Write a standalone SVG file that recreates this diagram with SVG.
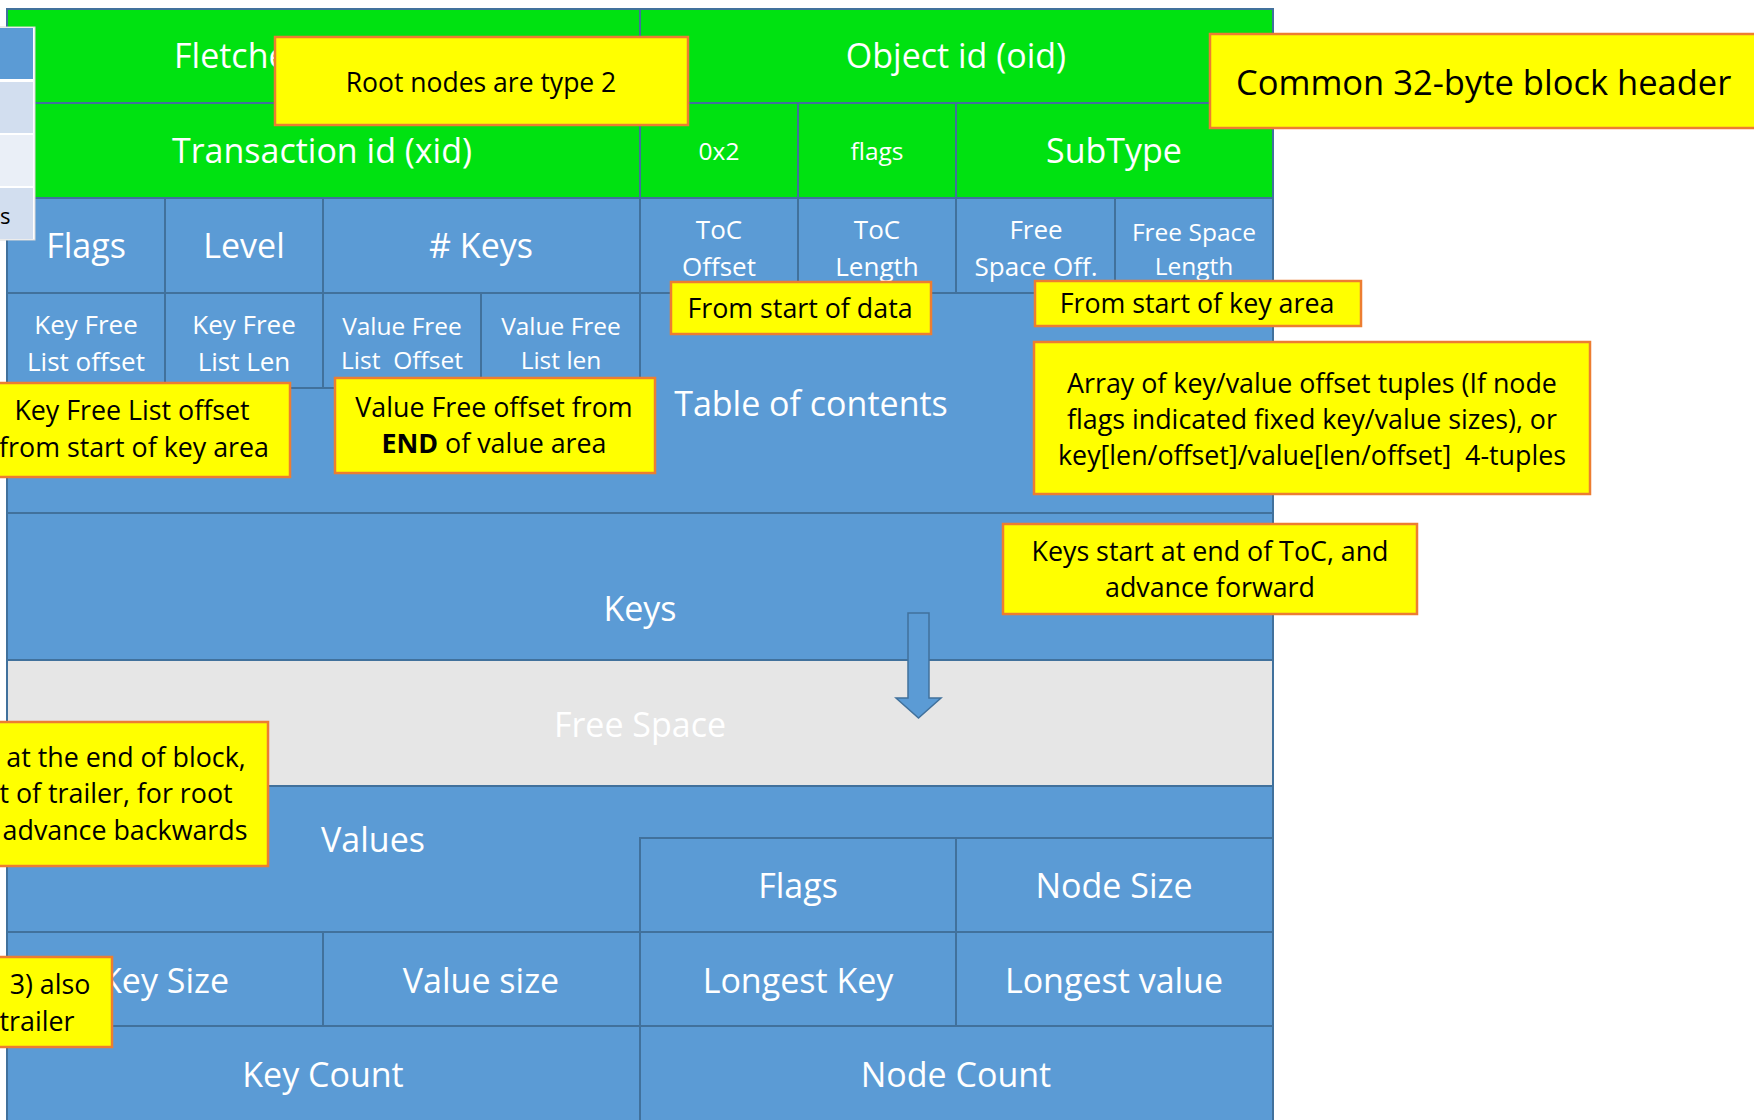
<svg xmlns="http://www.w3.org/2000/svg" width="1754" height="1120" viewBox="0 0 1754 1120">
<style>
.g{fill:#00e211;stroke:#41719c;stroke-width:2}
.b{fill:#5b9bd5;stroke:#41719c;stroke-width:2}
.fs{fill:#e6e6e6;stroke:#41719c;stroke-width:2}
.c{fill:#ffff00;stroke:#ed7d31;stroke-width:2.5}
text{font-family:"Open Sans","Liberation Sans",sans-serif;fill:#ffffff;text-anchor:middle}
.L{font-size:34px}
.M{font-size:26px}
.S{font-size:24.5px}
.k{fill:#000000}
.n{font-size:26.8px}
.st{text-anchor:start}
</style>
<rect x="0" y="0" width="1754" height="1120" fill="#ffffff"/>

<!-- green header rows -->
<g id="fletcher"><rect class="g" x="7" y="9" width="633" height="94"/><text class="L st" x="174" y="68">Fletche</text></g>
<g id="oid"><rect class="g" x="640" y="9" width="633" height="94"/><text class="L" x="956" y="68">Object id (oid)</text></g>
<g id="xid"><rect class="g" x="7" y="103" width="633" height="95"/><text class="L" x="322" y="163">Transaction id (xid)</text></g>
<g id="type"><rect class="g" x="640" y="103" width="158" height="95"/><text class="S" x="719" y="160">0x2</text></g>
<g id="hflags"><rect class="g" x="798" y="103" width="158" height="95"/><text class="S" x="877" y="160">flags</text></g>
<g id="subtype"><rect class="g" x="956" y="103" width="317" height="95"/><text class="L" x="1114" y="163">SubType</text></g>

<!-- row 3 -->
<g id="flags"><rect class="b" x="7" y="198" width="158" height="95"/><text class="L" x="86" y="258">Flags</text></g>
<g id="level"><rect class="b" x="165" y="198" width="158" height="95"/><text class="L" x="244" y="258">Level</text></g>
<g id="nkeys"><rect class="b" x="323" y="198" width="317" height="95"/><text class="L" x="481" y="258"># Keys</text></g>
<g id="tocoff"><rect class="b" x="640" y="198" width="158" height="95"/><text class="M" x="719" y="239">ToC</text><text class="M" x="719" y="276">Offset</text></g>
<g id="toclen"><rect class="b" x="798" y="198" width="158" height="95"/><text class="M" x="877" y="239">ToC</text><text class="M" x="877" y="276">Length</text></g>
<g id="fsoff"><rect class="b" x="956" y="198" width="159" height="95"/><text class="M" x="1036" y="239">Free</text><text class="M" x="1036" y="276">Space Off.</text></g>
<g id="fslen"><rect class="b" x="1115" y="198" width="158" height="95"/><text class="S" x="1194" y="241">Free Space</text><text class="S" x="1194" y="275">Length</text></g>

<!-- table of contents -->
<g id="toc"><rect class="b" x="7" y="293" width="1266" height="220"/><text class="L" x="811" y="416">Table of contents</text></g>

<!-- row 4 -->
<g id="kfloff"><rect class="b" x="7" y="293" width="158" height="95"/><text class="M" x="86" y="334">Key Free</text><text class="M" x="86" y="371">List offset</text></g>
<g id="kfllen"><rect class="b" x="165" y="293" width="158" height="95"/><text class="M" x="244" y="334">Key Free</text><text class="M" x="244" y="371">List Len</text></g>
<g id="vfloff"><rect class="b" x="323" y="293" width="158" height="95"/><text class="S" x="402" y="335">Value Free</text><text class="S" x="402" y="369" xml:space="preserve">List  Offset</text></g>
<g id="vfllen"><rect class="b" x="481" y="293" width="159" height="95"/><text class="S" x="561" y="335">Value Free</text><text class="S" x="561" y="369">List len</text></g>

<!-- keys / free space -->
<g id="keys"><rect class="b" x="7" y="513" width="1266" height="147"/><text class="L" x="640" y="621">Keys</text></g>
<g id="freespace"><rect class="fs" x="7" y="660" width="1266" height="126"/><text class="L" x="640" y="737">Free Space</text></g>

<!-- values and trailer -->
<g id="values"><rect class="b" x="7" y="786" width="1266" height="146"/><text class="L" x="373" y="852">Values</text></g>
<g id="tflags"><rect class="b" x="640" y="838" width="316" height="94"/><text class="L" x="798" y="898">Flags</text></g>
<g id="nodesize"><rect class="b" x="956" y="838" width="317" height="94"/><text class="L" x="1114" y="898">Node Size</text></g>
<g id="keysize"><rect class="b" x="7" y="932" width="316" height="94"/><text class="L" x="165" y="993">Key Size</text></g>
<g id="valuesize"><rect class="b" x="323" y="932" width="317" height="94"/><text class="L" x="481" y="993">Value size</text></g>
<g id="longestkey"><rect class="b" x="640" y="932" width="316" height="94"/><text class="L" x="798" y="993">Longest Key</text></g>
<g id="longestvalue"><rect class="b" x="956" y="932" width="317" height="94"/><text class="L" x="1114" y="993">Longest value</text></g>
<g id="keycount"><rect class="b" x="7" y="1026" width="633" height="100"/><text class="L" x="323" y="1087">Key Count</text></g>
<g id="nodecount"><rect class="b" x="640" y="1026" width="633" height="100"/><text class="L" x="956" y="1087">Node Count</text></g>

<!-- connectors -->
<g id="connectors">
<polygon points="908,613 929,613 929,698 941,698 918.5,718 896,698 908,698" fill="#5b9bd5" stroke="#41719c" stroke-width="1.5"/>
</g>

<!-- left panel stub -->
<g id="panel">
<rect x="-4" y="27" width="39" height="213" fill="#ffffff" stroke="#d9d9d9" stroke-width="1"/>
<rect x="-4" y="28" width="37" height="51" fill="#5b9bd5"/>
<rect x="-4" y="82" width="37" height="51" fill="#d2deef"/>
<rect x="-4" y="135" width="37" height="51" fill="#eaeff7"/>
<rect x="-4" y="188" width="37" height="51" fill="#d2deef"/>
<text class="k st" x="0" y="224" style="font-size:22px">s</text>
</g>

<!-- callouts -->
<g id="c-root"><rect class="c" x="275" y="37" width="413" height="88"/><text class="k" x="481" y="92" style="font-size:26.5px">Root nodes are type 2</text></g>
<g id="c-common"><rect class="c" x="1210" y="34" width="560" height="94"/><text class="k st" x="1236" y="95" style="font-size:34.5px">Common 32-byte block header</text></g>
<g id="c-data"><rect class="c" x="671" y="282" width="260" height="52"/><text class="k n" x="800" y="318">From start of data</text></g>
<g id="c-keyarea"><rect class="c" x="1035" y="281" width="326" height="45"/><text class="k n" x="1197" y="313">From start of key area</text></g>
<g id="c-array"><rect class="c" x="1034" y="342" width="556" height="152"/>
<text class="k n" x="1312" y="393">Array of key/value offset tuples (If node</text>
<text class="k n" x="1312" y="429">flags indicated fixed key/value sizes), or</text>
<text class="k n" x="1312" y="465" xml:space="preserve">key[len/offset]/value[len/offset]  4-tuples</text></g>
<g id="c-keysstart"><rect class="c" x="1003" y="524" width="414" height="90"/>
<text class="k n" x="1210" y="561">Keys start at end of ToC, and</text>
<text class="k n" x="1210" y="597">advance forward</text></g>
<g id="c-kfl"><rect class="c" x="-10" y="383" width="300" height="94"/>
<text class="k n" x="132" y="420">Key Free List offset</text>
<text class="k n" x="134" y="457">from start of key area</text></g>
<g id="c-vfl"><rect class="c" x="335" y="378" width="320" height="95"/>
<text class="k n" x="494" y="417">Value Free offset from</text>
<text class="k n" x="494" y="453"><tspan font-weight="bold">END</tspan> of value area</text></g>
<g id="c-values"><rect class="c" x="-10" y="722" width="278" height="144"/>
<text class="k n" x="126" y="767">at the end of block,</text>
<text class="k n" x="116" y="803">t of trailer, for root</text>
<text class="k n" x="125" y="840">advance backwards</text></g>
<g id="c-trailer"><rect class="c" x="-10" y="957" width="122" height="90"/>
<text class="k n" x="50" y="994">3) also</text>
<text class="k n" x="37" y="1031">trailer</text></g>
</svg>
